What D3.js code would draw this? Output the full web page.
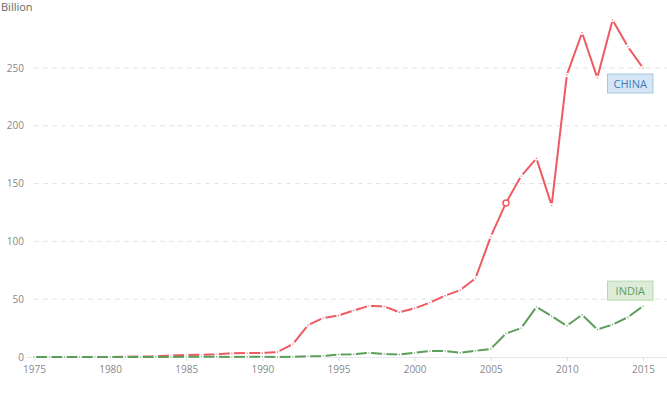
<!DOCTYPE html>
<html><head><meta charset="utf-8">
<script src="https://cdn.jsdelivr.net/npm/d3@7"></script>
<style>
body{margin:0;background:#fff;}
svg{font-family:"Open Sans",sans-serif;}
</style></head>
<body><svg id="c" width="667" height="400"></svg>
<script>
const years = d3.range(1975, 2016);
const china = [0,0,0,0,0,0.06,0.27,0.43,0.64,1.26,1.66,1.88,2.31,3.19,3.39,3.49,4.37,11.16,27.52,33.79,35.85,40.18,44.24,43.75,38.75,42.1,47.05,53.07,57.9,68.12,104.1,133.3,156.5,171.8,131.2,244.0,280.5,241.5,291.5,268.5,250.0];
const india = [0.01,0.01,0.01,0.01,0.01,0.08,0.09,0.07,0.01,0.02,0.11,0.12,0.21,0.09,0.25,0.24,0.07,0.28,0.55,0.97,2.14,2.43,3.58,2.63,2.17,3.58,5.13,5.21,3.68,5.43,7.0,20.3,25.0,43.4,35.3,27.0,36.5,23.8,28.0,34.4,44.0];
const yTicks = [0,50,100,150,200,250];
const xTicks = [1975,1980,1985,1990,1995,2000,2005,2010,2015];
const seriesNames = ["CHINA","INDIA"];

const svg = d3.select("#c");
const x = d3.scaleLinear().domain([1975,2015]).range([34,643]);
const y = d3.scaleLinear().domain([0,250]).range([357,68]);

svg.append("text").attr("x",1).attr("y",11).attr("font-size",11).attr("fill","#666").text("Billion");

// grid
svg.selectAll(".grid").data(yTicks.slice(1)).enter().append("line")
  .attr("x1",34).attr("x2",667).attr("y1",d=>y(d)).attr("y2",d=>y(d))
  .attr("stroke","#e3e3e3").attr("stroke-dasharray","5,4");
// y labels
svg.selectAll(".yl").data(yTicks).enter().append("text")
  .attr("x",24).attr("y",d=>y(d)+3.5).attr("text-anchor","end")
  .attr("font-size",10).attr("fill","#888").text(d=>d);
// x axis
const xa = svg.append("g").attr("transform","translate(0,357)")
  .call(d3.axisBottom(x).tickValues(xTicks).tickFormat(d3.format("d")).tickSize(4).tickPadding(5));
xa.select(".domain").attr("stroke","#e3e8ea").attr("d","M26,0.5H667");
xa.selectAll(".tick line").attr("stroke","#d8dde0");
xa.selectAll(".tick text").attr("fill","#888").attr("font-size",10).attr("font-family","Open Sans, sans-serif");

const colors = ["#ef5a62","#5d9f5a"];
const data = [china, india];
const line = d3.line().x((d,i)=>x(years[i])).y(d=>y(d));
data.forEach((vals,k)=>{
  svg.append("path").attr("d",line(vals)).attr("fill","none")
    .attr("stroke",colors[k]).attr("stroke-width",2).attr("stroke-linejoin","round");
  svg.append("g").selectAll("circle").data(vals).enter().append("circle")
    .attr("cx",(d,i)=>x(years[i])).attr("cy",d=>y(d)).attr("r",1.5)
    .attr("fill",colors[k]).attr("stroke","#fff").attr("stroke-width",1.6);
});
// highlighted point
const hi = years.indexOf(2006);
svg.append("circle").attr("cx",x(2006)).attr("cy",y(china[hi])).attr("r",3)
  .attr("fill","#fff").attr("stroke",colors[0]).attr("stroke-width",1.5);

// labels
const lab = [
  {name:seriesNames[0], yv:china[china.length-1], dy:6, fill:"#d5e5f3", stroke:"#a4c6e3", color:"#3b7dbd"},
  {name:seriesNames[1], yv:india[india.length-1], dy:-25, fill:"#dcecd9", stroke:"#b5d8ae", color:"#5d9f5a"}
];
lab.forEach(l=>{
  const top = y(l.yv)+l.dy;
  svg.append("rect").attr("x",607.5).attr("y",top).attr("width",45.5).attr("height",19)
    .attr("fill",l.fill).attr("stroke",l.stroke).attr("stroke-width",1);
  svg.append("text").attr("x",630.25).attr("y",top+13.5).attr("text-anchor","middle")
    .attr("font-size",11).attr("fill",l.color).text(l.name);
});
</script></body></html>
